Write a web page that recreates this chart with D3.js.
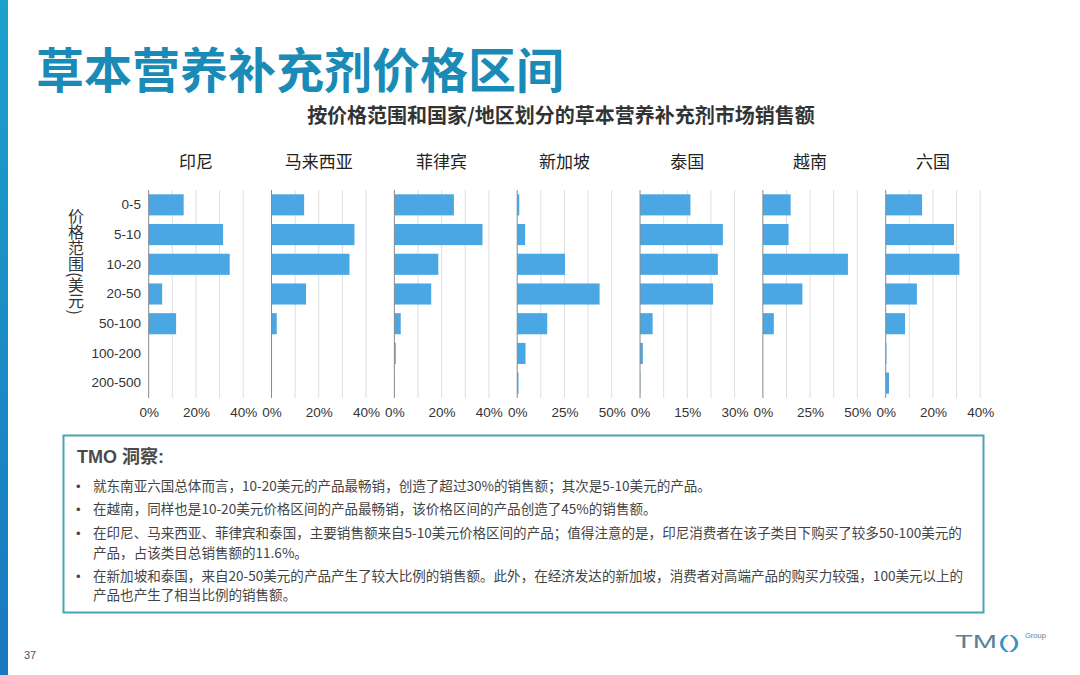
<!DOCTYPE html>
<html>
<head>
<meta charset="utf-8">
<script src="https://cdn.jsdelivr.net/npm/d3@7"></script>
<style>
  body { margin: 0; background: #fff; }
  svg text { font-family: "Liberation Sans", Arial, "Noto Sans CJK SC", sans-serif; }
</style>
</head>
<body>
<div id="chart"></div>
<script>
const priceRanges = ["0-5", "5-10", "10-20", "20-50", "50-100", "100-200", "200-500"];
const countries = ["印尼", "马来西亚", "菲律宾", "新加坡", "泰国", "越南", "六国"];

/* share of sales (%) per price range, one array per country */
const indonesia = [14.8, 31.5, 34.3, 5.7, 11.6, 0, 0];
const malaysia = [13.8, 35.1, 33.0, 14.6, 2.2, 0.1, 0.1];
const philippines = [25.2, 37.3, 18.6, 15.6, 2.7, 0.6, 0.1];
const singapore = [1.1, 4.2, 25.3, 43.6, 15.9, 4.4, 0.7];
const thailand = [16.0, 26.3, 24.7, 23.2, 4.0, 0.9, 0.1];
const vietnam = [14.7, 13.6, 45.0, 20.9, 5.8, 0, 0];
const sixCountries = [15.4, 28.9, 31.2, 13.2, 8.2, 0.3, 1.4];

/* axis max and labelled ticks per panel */
const axisMax = [40, 40, 40, 50, 30, 50, 40];
const tickLabels = [[0, 20, 40], [0, 20, 40], [0, 20, 40], [0, 25, 50], [0, 15, 30], [0, 25, 50], [0, 20, 40]];

const insights = [
  ["就东南亚六国总体而言，10-20美元的产品最畅销，创造了超过30%的销售额；其次是5-10美元的产品。"],
  ["在越南，同样也是10-20美元价格区间的产品最畅销，该价格区间的产品创造了45%的销售额。"],
  ["在印尼、马来西亚、菲律宾和泰国，主要销售额来自5-10美元价格区间的产品；值得注意的是，印尼消费者在该子类目下购买了较多50-100美元的",
   "产品，占该类目总销售额的11.6%。"],
  ["在新加坡和泰国，来自20-50美元的产品产生了较大比例的销售额。此外，在经济发达的新加坡，消费者对高端产品的购买力较强，100美元以上的",
   "产品也产生了相当比例的销售额。"]
];

const series = [indonesia, malaysia, philippines, singapore, thailand, vietnam, sixCountries];

const W = 1080, H = 675;
const svg = d3.select("#chart").append("svg")
  .attr("width", W)
  .attr("height", H);

// left stripe
const grad = svg.append("defs").append("linearGradient")
  .attr("id", "stripe").attr("x1", 0).attr("y1", 0).attr("x2", 0).attr("y2", 1);
grad.append("stop").attr("offset", "0%").attr("stop-color", "#1ca0cc");
grad.append("stop").attr("offset", "100%").attr("stop-color", "#1a78c0");
svg.append("rect").attr("x", 0).attr("y", 0).attr("width", 8).attr("height", H).attr("fill", "url(#stripe)");

// title
svg.append("text")
  .attr("x", 36).attr("y", 88)
  .style("font-family", "'Noto Sans CJK SC', sans-serif")
  .style("font-size", "48px").style("font-weight", 700)
  .attr("fill", "#1a8ab6")
  .text("草本营养补充剂价格区间");

svg.append("text")
  .attr("x", 561).attr("y", 123)
  .attr("text-anchor", "middle")
  .style("font-family", "'Noto Sans CJK SC', sans-serif")
  .style("font-size", "20px").style("font-weight", 700)
  .attr("fill", "#333")
  .text("按价格范围和国家/地区划分的草本营养补充剂市场销售额");

// scales
const panel = d3.scaleBand()
  .domain(countries)
  .range([148.7, 980.2])
  .paddingInner(0.2307);

const y = d3.scaleBand()
  .domain(priceRanges)
  .range([190, 398])
  .paddingInner(0.29)
  .paddingOuter(0.145);

countries.forEach((c, i) => {
  const x0 = panel(c);
  const x = d3.scaleLinear().domain([0, axisMax[i]]).range([x0, x0 + panel.bandwidth()]);
  const g = svg.append("g");

  // gridlines every quarter of the axis
  const grid = d3.range(1, 5).map(k => axisMax[i] * k / 4);
  g.selectAll("line.grid")
    .data(grid)
    .enter().append("line")
    .attr("x1", d => x(d)).attr("x2", d => x(d))
    .attr("y1", 190).attr("y2", 398)
    .attr("stroke", "#dedede").attr("stroke-width", 1);

  g.selectAll("rect")
    .data(series[i])
    .enter().append("rect")
    .attr("x", x(0))
    .attr("y", (d, j) => y(priceRanges[j]))
    .attr("width", d => x(d) - x(0))
    .attr("height", y.bandwidth())
    .attr("fill", "#4ba6e4");

  // zero line
  g.append("line")
    .attr("x1", x(0)).attr("x2", x(0))
    .attr("y1", 190).attr("y2", 398)
    .attr("stroke", "#8a8a8a").attr("stroke-width", 1);

  // bottom axis labels
  const axis = g.append("g")
    .attr("transform", "translate(0,404)")
    .call(d3.axisBottom(x).tickValues(tickLabels[i]).tickFormat(d => d + "%").tickSize(0));
  axis.select(".domain").remove();
  axis.selectAll("text")
    .attr("dy", "0.71em")
    .style("font-size", "13.5px")
    .attr("fill", "#333");

  // panel title
  g.append("text")
    .attr("x", x0 + panel.bandwidth() / 2)
    .attr("y", 168)
    .attr("text-anchor", "middle")
    .style("font-family", "'Noto Sans CJK SC', sans-serif")
    .style("font-size", "17px")
    .attr("fill", "#222")
    .text(c);
});

// category labels
const yAxis = svg.append("g")
  .attr("transform", "translate(141,0)")
  .call(d3.axisLeft(y).tickSize(0).tickPadding(0));
yAxis.select(".domain").remove();
yAxis.selectAll("text")
  .style("font-size", "13.5px")
  .attr("fill", "#333");

// y axis title, vertical
svg.append("text")
  .attr("x", 76).attr("y", 208)
  .style("writing-mode", "vertical-rl")
  .style("font-family", "'Noto Sans CJK SC', sans-serif")
  .style("font-size", "16px")
  .attr("fill", "#333")
  .text("价格范围(美元)");

// insight box
svg.append("rect")
  .attr("x", 63.5).attr("y", 435.5)
  .attr("width", 920).attr("height", 177)
  .attr("fill", "#fff")
  .attr("stroke", "#4aa3b2").attr("stroke-width", 2);

svg.append("text")
  .attr("x", 77).attr("y", 463)
  .style("font-family", "'Liberation Sans', 'Noto Sans CJK SC', sans-serif")
  .style("font-size", "18px").style("font-weight", 700)
  .attr("fill", "#4a4a4a")
  .text("TMO 洞察:");

const lineY = [[491], [514], [538, 558], [581, 600]];
insights.forEach((lines, i) => {
  svg.append("text")
    .attr("x", 76).attr("y", lineY[i][0])
    .style("font-size", "13px")
    .attr("fill", "#444")
    .text("•");
  lines.forEach((t, k) => {
    svg.append("text")
      .attr("x", 93).attr("y", lineY[i][k])
      .style("font-family", "'Noto Sans CJK SC', sans-serif")
      .style("font-size", "13.55px")
      .attr("fill", "#444")
      .text(t);
  });
});

// page number
svg.append("text")
  .attr("x", 24).attr("y", 659)
  .style("font-size", "11px")
  .attr("fill", "#555")
  .text("37");

// logo
const logo = svg.append("g").attr("transform", "translate(955,648)");
logo.append("text")
  .attr("textLength", 42).attr("lengthAdjust", "spacingAndGlyphs")
  .style("font-family", "'Liberation Sans', sans-serif")
  .style("font-size", "19px")
  .attr("fill", "#5b7f96")
  .text("TM");
logo.append("text")
  .attr("x", 43)
  .attr("textLength", 22).attr("lengthAdjust", "spacingAndGlyphs")
  .style("font-family", "'Liberation Sans', sans-serif")
  .style("font-size", "19px")
  .attr("fill", "#3a8fc0")
  .text("()");
logo.append("text")
  .attr("x", 70).attr("y", -10)
  .style("font-family", "'Liberation Sans', sans-serif")
  .style("font-size", "7.5px")
  .attr("fill", "#5b8199")
  .text("Group");
</script>
</body>
</html>
